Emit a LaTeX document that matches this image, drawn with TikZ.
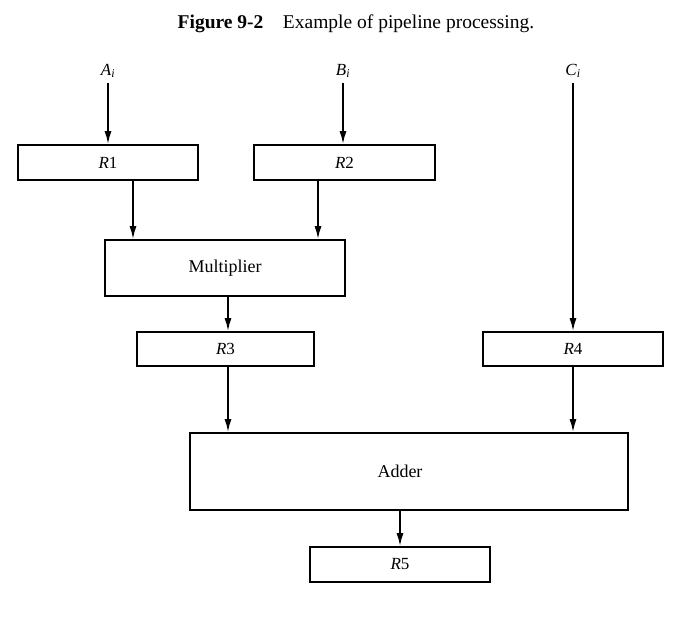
\documentclass[tikz,border=0pt]{standalone}
\usepackage{fontspec}
\setmainfont{Liberation Serif}
\usetikzlibrary{arrows.meta}
\begin{document}
\begin{tikzpicture}[x=1pt,y=-1pt,
  box/.style={draw,line width=1.8pt,inner sep=0pt,font=\fontsize{17}{20}\selectfont},
  bigtext/.style={font=\fontsize{18}{21}\selectfont},
  arr/.style={line width=1.7pt,-{Latex[length=13pt,width=7pt]}},
  inlab/.style={font=\fontsize{17}{20}\selectfont,inner sep=1pt}]
\useasboundingbox (0,0) rectangle (681,627);
\node[font=\fontsize{19.5}{22}\selectfont] (title) at (356,24) {\textbf{Figure 9-2}\quad Example of pipeline processing.};
\node[inlab] (A) at (108,71) {\textit{A}\textsubscript{\textit{i}}};
\node[inlab] (B) at (343,71) {\textit{B}\textsubscript{\textit{i}}};
\node[inlab] (C) at (573,71) {\textit{C}\textsubscript{\textit{i}}};
\node[box,minimum width=180pt,minimum height=35pt] (R1) at (108,162.5) {\textit{R}1};
\node[box,minimum width=181pt,minimum height=35pt] (R2) at (344.5,162.5) {\textit{R}2};
\node[box,bigtext,minimum width=240pt,minimum height=56pt] (M) at (225,268) {Multiplier};
\node[box,minimum width=177pt,minimum height=34pt] (R3) at (225.5,349) {\textit{R}3};
\node[box,minimum width=180pt,minimum height=34pt] (R4) at (573,349) {\textit{R}4};
\node[box,minimum width=438pt,minimum height=77pt] (AD) at (409,471.5) {};
\node[bigtext] (ADt) at (400,471.5) {Adder};
\node[box,minimum width=180pt,minimum height=35pt] (R5) at (400,564.5) {\textit{R}5};
\draw[arr] ([yshift=-12pt]A.center -| R1.north) -- (R1.north);
\draw[arr] ([yshift=-12pt]B.center) -- (B.center |- R2.north);
\draw[arr] ([yshift=-12pt]C.center) -- (C.center |- R4.north);
\draw[arr] ([xshift=25pt]R1.south) -- ([xshift=25pt]R1.south |- M.north);
\draw[arr] ([xshift=-26.5pt]R2.south) -- ([xshift=-26.5pt]R2.south |- M.north);
\draw[arr] ([xshift=3pt]M.south) -- ([xshift=3pt]M.south |- R3.north);
\draw[arr] ([xshift=2.5pt]R3.south) -- ([xshift=2.5pt]R3.south |- AD.north);
\draw[arr] (R4.south) -- (R4.south |- AD.north);
\draw[arr] (ADt.center |- AD.south) -- (R5.north);
\end{tikzpicture}
\end{document}
